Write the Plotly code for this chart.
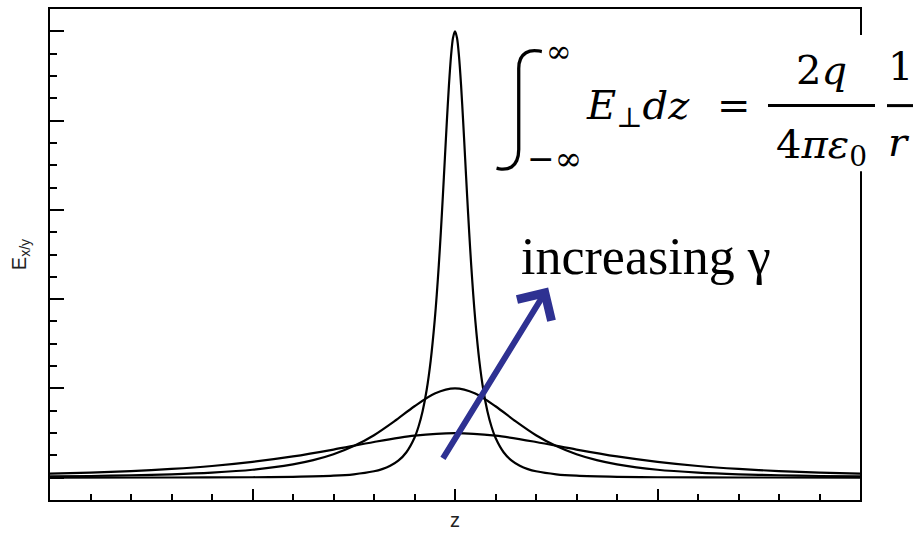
import plotly.graph_objects as go

# ---- data (z in axis units, E in axis units) ----
z_tall = [-10, -7, -5, -4, -3, -2.5, -2, -1.8, -1.6, -1.4, -1.2, -1.0, -0.9, -0.8, -0.7, -0.6,
          -0.5, -0.45, -0.4, -0.35, -0.3, -0.25, -0.2, -0.15, -0.1, -0.05, 0,
          0.05, 0.1, 0.15, 0.2, 0.25, 0.3, 0.35, 0.4, 0.45, 0.5, 0.6, 0.7, 0.8, 0.9, 1.0,
          1.2, 1.4, 1.6, 1.8, 2, 2.5, 3, 4, 5, 7, 10]
e_tall = [0.001, 0.002, 0.005, 0.010, 0.022, 0.038, 0.072, 0.096, 0.133, 0.190, 0.285, 0.447,
          0.573, 0.744, 0.982, 1.312, 1.768, 2.053, 2.381, 2.749, 3.153, 3.578, 4.002, 4.394,
          4.714, 4.926, 5.0,
          4.926, 4.714, 4.394, 4.002, 3.578, 3.153, 2.749, 2.381, 2.053, 1.768, 1.312, 0.982,
          0.744, 0.573, 0.447, 0.285, 0.190, 0.133, 0.096, 0.072, 0.038, 0.022, 0.010, 0.005,
          0.002, 0.001]

z_mid = [-10, -9, -8, -7, -6, -5, -4, -3.5, -3, -2.5, -2, -1.5, -1, -0.5, 0,
         0.5, 1, 1.5, 2, 2.5, 3, 3.5, 4, 5, 6, 7, 8, 9, 10]
e_mid = [0.014, 0.019, 0.027, 0.038, 0.057, 0.089, 0.149, 0.196, 0.262, 0.354, 0.476, 0.631,
         0.800, 0.943, 1.0,
         0.943, 0.800, 0.631, 0.476, 0.354, 0.262, 0.196, 0.149, 0.089, 0.057, 0.038, 0.027,
         0.019, 0.014]

z_low = [-10, -9, -8, -7, -6, -5, -4, -3, -2, -1, 0, 1, 2, 3, 4, 5, 6, 7, 8, 9, 10]
e_low = [0.045, 0.057, 0.074, 0.098, 0.131, 0.177, 0.238, 0.315, 0.400, 0.471, 0.5,
         0.471, 0.400, 0.315, 0.238, 0.177, 0.131, 0.098, 0.074, 0.057, 0.045]

x_title = "z"
y_title = "E<sub>x/y</sub>"
label_text = "increasing γ"

# ---- layout helpers (pixel -> paper) ----
L, R, T, B = 50, 860, 7, 500
def px(x):
    return (x - L) / (R - L)
def py(y):
    return (B - y) / (B - T)

fig = go.Figure()
for zs, es in [(z_low, e_low), (z_mid, e_mid), (z_tall, e_tall)]:
    fig.add_trace(go.Scatter(x=zs, y=es, mode="lines",
                             line=dict(color="black", width=2.2, shape="spline", smoothing=0.8),
                             hoverinfo="skip", showlegend=False))

math_font = "DejaVu Serif"
ann = []
def A(text, x, y, size, xanchor="center", yanchor="middle", family=math_font, color="black",
      weight="normal"):
    ann.append(dict(text=text, x=px(x), y=py(y), xref="paper", yref="paper",
                    xanchor=xanchor, yanchor=yanchor, showarrow=False,
                    font=dict(family=family, size=size, color=color, weight=weight)))

A("∫", 519, 100, 125, family="Roboto", weight=100)
A("∞", 559, 49, 31)
A("−∞", 554, 157, 33)
A("<i>E</i><sub>⊥</sub><i>dz</i>", 584, 106, 40, xanchor="left")
A("=", 734, 103, 40)
A("2<i>q</i>", 821, 68, 40)
A("4<i>πε</i><sub>0</sub>", 821, 146, 40)
A("1", 900, 64, 40)
A("<i>r</i>", 899, 141, 40)
A(label_text, 519, 256, 52, xanchor="left", family="Liberation Serif")

# arrow
ann.append(dict(x=2.3, y=2.13, ax=-0.32, ay=0.2, xref="x", yref="y", axref="x", ayref="y",
                text="", showarrow=True, arrowhead=4, arrowsize=1.3, arrowwidth=6,
                arrowcolor="#2E3192"))

shapes = [
    dict(type="rect", xref="paper", yref="paper", x0=px(850), x1=px(868), y0=py(170), y1=py(33),
         fillcolor="white", line=dict(width=0), layer="above"),
    dict(type="line", xref="paper", yref="paper", x0=px(768), x1=px(875), y0=py(104), y1=py(104),
         line=dict(color="black", width=3), layer="above"),
    dict(type="line", xref="paper", yref="paper", x0=px(887), x1=px(913), y0=py(104), y1=py(104),
         line=dict(color="black", width=3), layer="above"),
]

fig.update_layout(
    width=915, height=534,
    margin=dict(l=L, r=915 - R, t=T, b=534 - B),
    paper_bgcolor="white", plot_bgcolor="white",
    annotations=ann, shapes=shapes,
    xaxis=dict(range=[-10, 10], showgrid=False, zeroline=False, showticklabels=False,
               showline=True, mirror=True, linecolor="black", linewidth=2,
               ticks="inside", tick0=0, dtick=5, ticklen=11, tickwidth=2, tickcolor="black",
               minor=dict(dtick=1, ticks="inside", ticklen=6, tickwidth=1.5, tickcolor="black"),
               title=dict(text=x_title, standoff=12,
                          font=dict(family="Liberation Sans", size=20, color="#222"))),
    yaxis=dict(range=[-0.25, 5.25], showgrid=False, zeroline=False, showticklabels=False,
               showline=True, mirror=True, linecolor="black", linewidth=2,
               ticks="inside", tick0=0, dtick=1, ticklen=14, tickwidth=2, tickcolor="black",
               minor=dict(dtick=0.25, ticks="inside", ticklen=7, tickwidth=1.5, tickcolor="black"),
               title=dict(text=y_title, standoff=16,
                          font=dict(family="Liberation Sans", size=20, color="#222"))),
)

fig.write_html("out.html", config={"displayModeBar": False},
               post_script="document.body.style.margin='0px';")
